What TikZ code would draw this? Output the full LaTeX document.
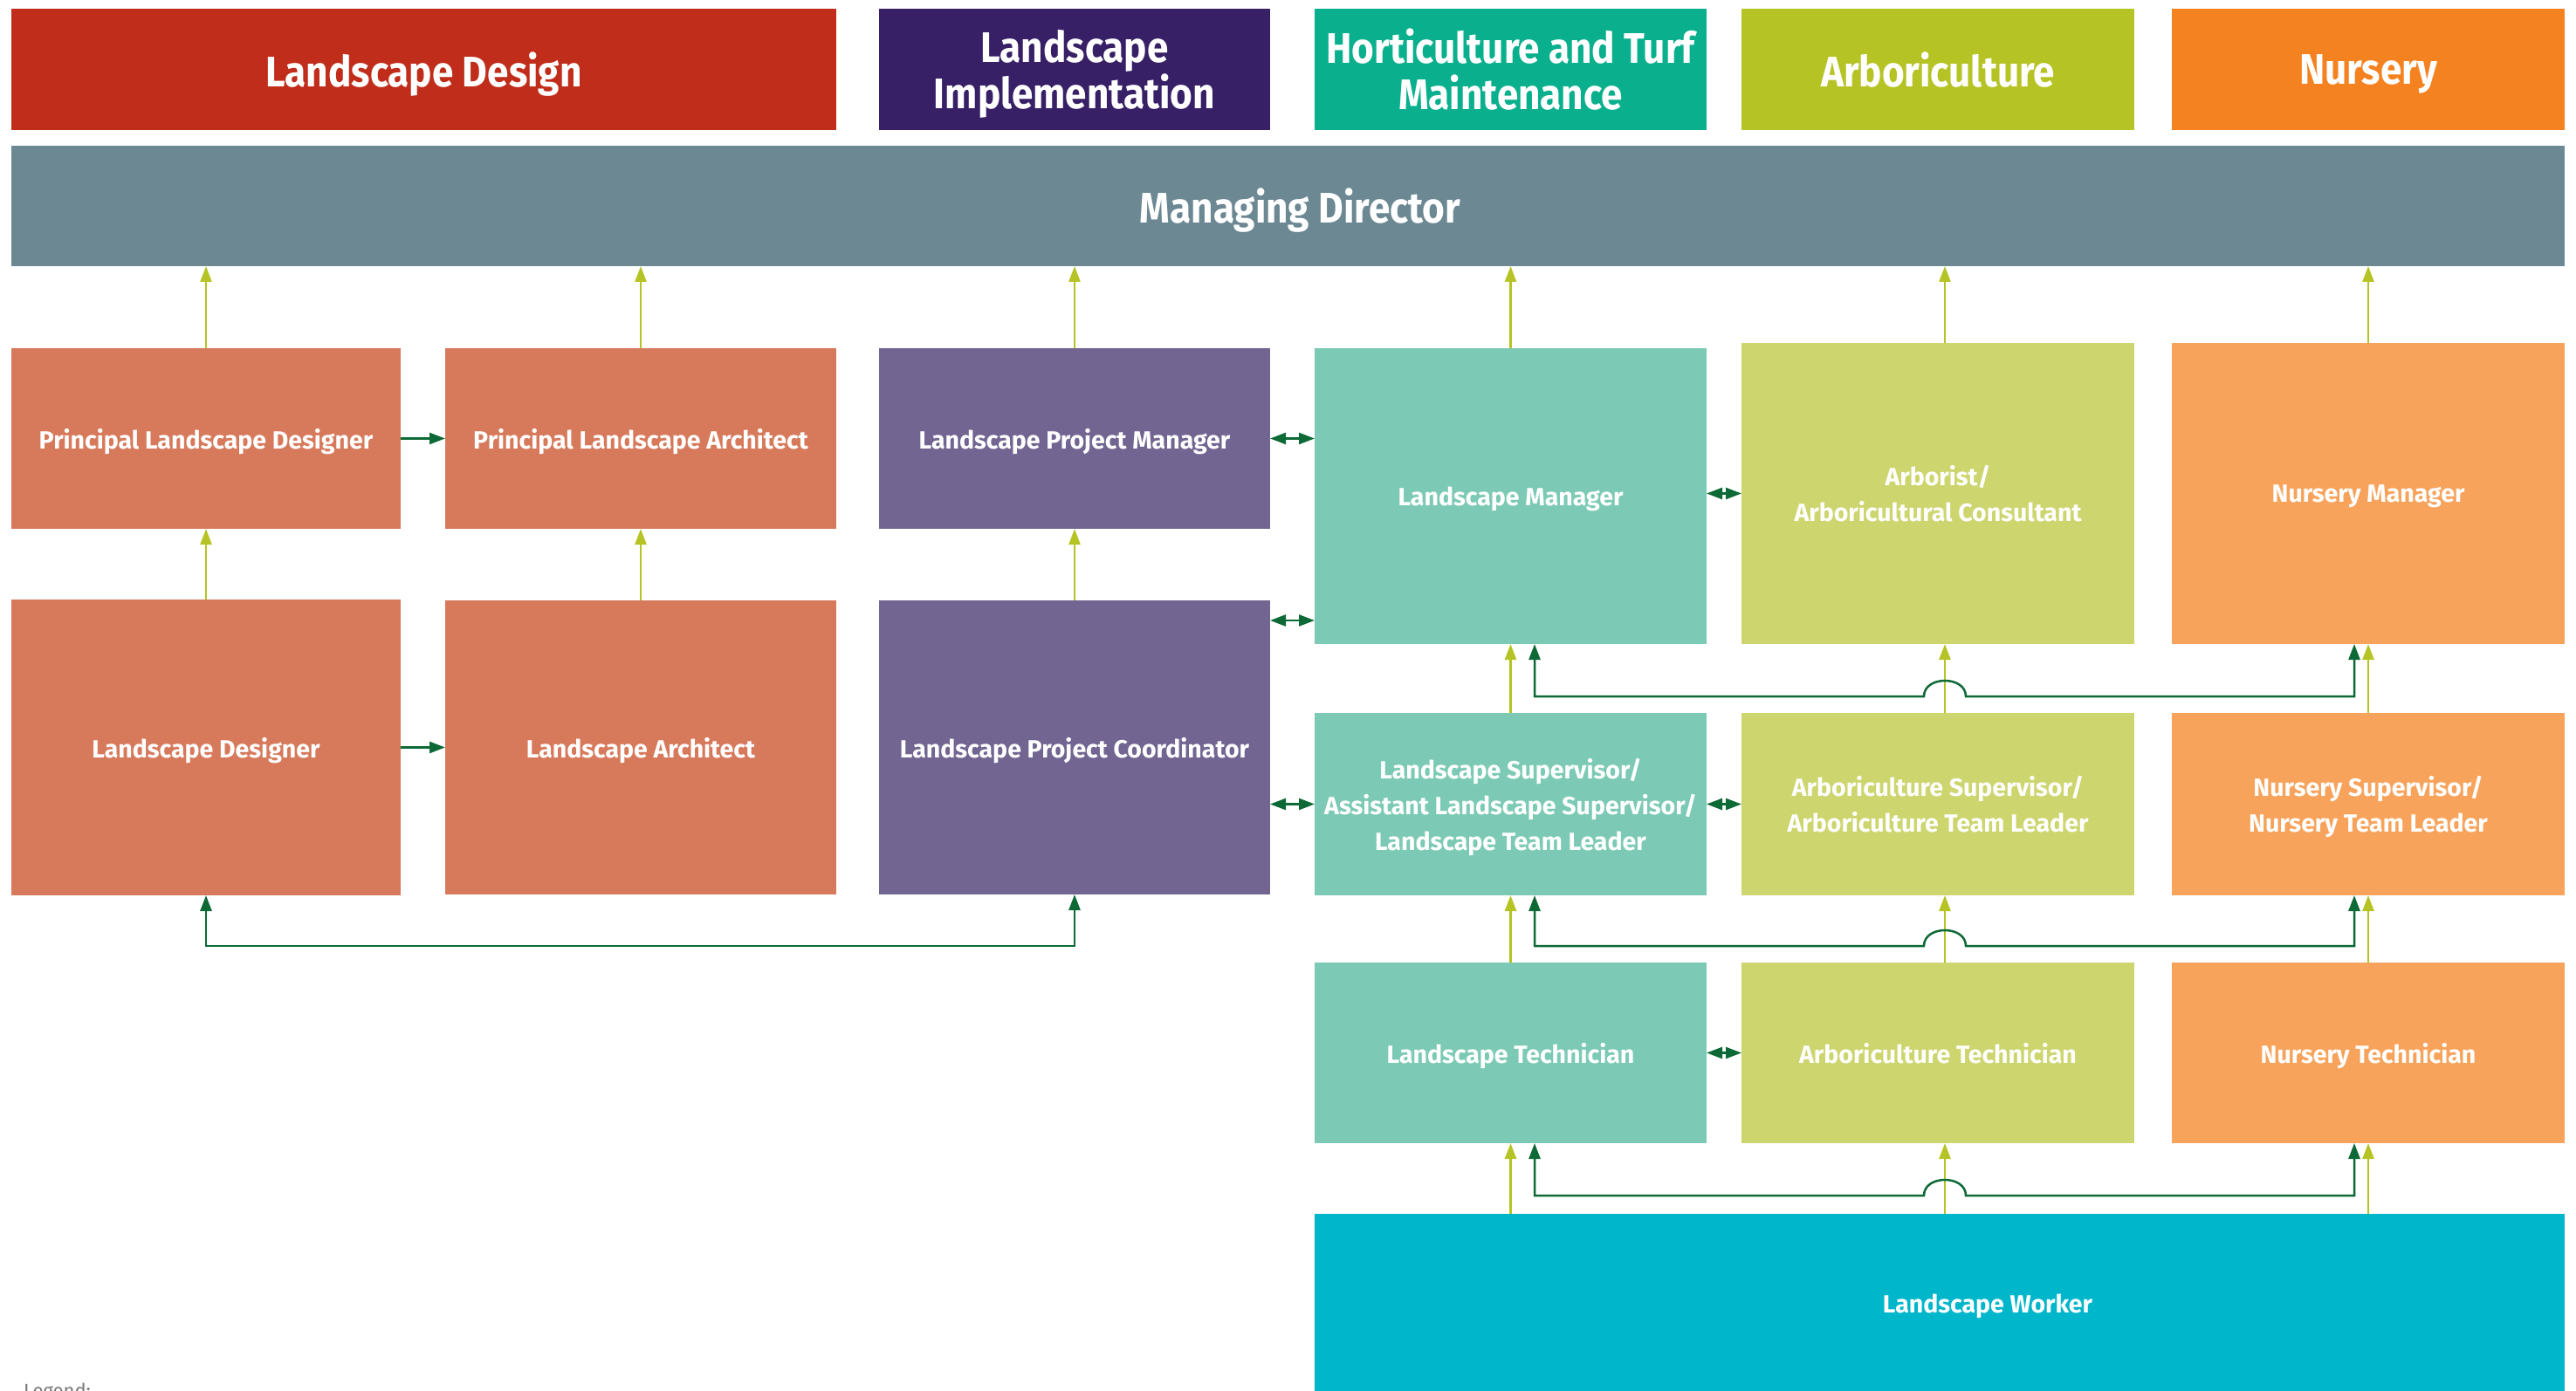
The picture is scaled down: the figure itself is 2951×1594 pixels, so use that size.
\documentclass[tikz,border=0pt]{standalone}
\usepackage{fontspec}
\setmainfont{Fira Sans}
\newfontfamily\din[FakeStretch=0.9]{Fira Sans}
\newfontfamily\dinbox{Fira Sans}
\usetikzlibrary{arrows.meta}
\definecolor{cRed}{HTML}{C02D1A}
\definecolor{cPurp}{HTML}{372066}
\definecolor{cTeal}{HTML}{0AB08D}
\definecolor{cLime}{HTML}{B5C424}
\definecolor{cOrange}{HTML}{F58220}
\definecolor{cMD}{HTML}{6C8893}
\definecolor{cSalmon}{HTML}{D77A5C}
\definecolor{cPurpL}{HTML}{726592}
\definecolor{cTealL}{HTML}{7CCAB5}
\definecolor{cLimeL}{HTML}{CDD56E}
\definecolor{cOrangeL}{HTML}{F7A35B}
\definecolor{cCyan}{HTML}{00B6CB}
\definecolor{cDkGreen}{HTML}{0D6935}
\definecolor{cLegend}{HTML}{777777}
\begin{document}
\begin{tikzpicture}[x=1pt,y=-1pt,
  box/.style={fill=#1, text=white, inner sep=0pt, outer sep=0pt, align=center,
    text depth=0pt, font=\dinbox\bfseries\fontsize{28.5}{41}\selectfont},
  head/.style={fill=#1, text=white, inner sep=0pt, outer sep=0pt, align=center,
    text depth=0pt, minimum height=139pt, font=\din\bfseries\fontsize{49}{53}\selectfont},
  up/.style={draw=cLime, line width=2.5pt, -{Triangle[length=18pt,width=13pt]}},
  link/.style={draw=cDkGreen, line width=2.5pt},
  tip/.tip={Triangle[length=18pt,width=13pt]}
]
\useasboundingbox (0,0) rectangle (2951,1594);

% column helper coordinates
\coordinate (x5) at (2228,0);
\coordinate (g4) at (1758,0);
\coordinate (g6) at (2697,0);
\coordinate (b1) at (2204,0);
\coordinate (b2) at (2252,0);
\coordinate (L1) at (0,798);
\coordinate (L2) at (0,1084);
\coordinate (L3) at (0,1370);
\coordinate (r711) at (0,711);

% headers
\node[head=cRed, minimum width=945pt] (H1) at (485.5,79.5) {Landscape Design};
\node[head=cPurp, minimum width=448pt] (H2) at (1231,79.5) {Landscape\\Implementation};
\node[head=cTeal, minimum width=449pt] (H3) at (1730.5,79.5) {Horticulture and Turf\\Maintenance};
\node[head=cLime, minimum width=450pt] (H4) at (2220,79.5) {Arboriculture};
\node[head=cOrange, minimum width=450pt] (H5) at (2713,79.5) {Nursery};

% managing director
\node[head=cMD, minimum width=2925pt, minimum height=138pt] (MD) at (1475.5,236) {\hspace*{28pt}Managing Director};

% row 1
\node[box=cSalmon, minimum width=446pt, minimum height=207pt] (PLD) at (236,502.5) {Principal Landscape Designer};
\node[box=cSalmon, minimum width=448pt, minimum height=207pt] (PLA) at (734,502.5) {Principal Landscape Architect};
\node[box=cPurpL, minimum width=448pt, minimum height=207pt] (LPM) at (1231,502.5) {Landscape Project Manager};
\node[box=cTealL, minimum width=449pt, minimum height=339pt] (LM) at (1730.5,568.5) {Landscape Manager};
\node[box=cLimeL, minimum width=450pt, minimum height=345pt] (ARB) at (2220,565.5) {Arborist/\\Arboricultural Consultant};
\node[box=cOrangeL, minimum width=450pt, minimum height=345pt] (NM) at (2713,565.5) {Nursery Manager};

% row 2
\node[box=cSalmon, minimum width=446pt, minimum height=339pt] (LD) at (236,856.5) {Landscape Designer};
\node[box=cSalmon, minimum width=448pt, minimum height=337pt] (LA) at (734,856.5) {Landscape Architect};
\node[box=cPurpL, minimum width=448pt, minimum height=337pt] (LPC) at (1231,856.5) {Landscape Project Coordinator};
\node[box=cTealL, minimum width=449pt, minimum height=209pt] (LS) at (1730.5,921.5) {Landscape Supervisor/\\Assistant Landscape Supervisor/\\Landscape Team Leader};
\node[box=cLimeL, minimum width=450pt, minimum height=209pt] (AS) at (2220,921.5) {Arboriculture Supervisor/\\Arboriculture Team Leader};
\node[box=cOrangeL, minimum width=450pt, minimum height=209pt] (NS) at (2713,921.5) {Nursery Supervisor/\\Nursery Team Leader};

% row 3
\node[box=cTealL, minimum width=449pt, minimum height=207pt] (LT) at (1730.5,1206.5) {Landscape Technician};
\node[box=cLimeL, minimum width=450pt, minimum height=207pt] (AT) at (2220,1206.5) {Arboriculture Technician};
\node[box=cOrangeL, minimum width=450pt, minimum height=207pt] (NT) at (2713,1206.5) {Nursery Technician};

% landscape worker
\node[box=cCyan, minimum width=1432pt, minimum height=260pt] (LW) at (2222,1521) {};
\node[box=cCyan, fill=none] (LWt) at (2277,1494) {Landscape Worker};

% legend
\node[anchor=base west, text=cLegend, inner sep=0pt, font=\fontsize{22}{26}\selectfont] (leg) at (27,1601) {Legend:};

% yellow reporting arrows
\draw[up] (PLD.north) -- (PLD.north |- MD.south);
\draw[up] (PLA.north) -- (PLA.north |- MD.south);
\draw[up] (LPM.north) -- (LPM.north |- MD.south);
\draw[up] (LM.north) -- (LM.north |- MD.south);
\draw[up] (x5 |- ARB.north) -- (x5 |- MD.south);
\draw[up] (NM.north) -- (NM.north |- MD.south);
\draw[up] (LD.north) -- (LD.north |- PLD.south);
\draw[up] (LA.north) -- (LA.north |- PLA.south);
\draw[up] (LPC.north) -- (LPC.north |- LPM.south);
\draw[up] (LS.north) -- (LS.north |- LM.south);
\draw[up] (x5 |- AS.north) -- (x5 |- ARB.south);
\draw[up] (NS.north) -- (NS.north |- NM.south);
\draw[up] (LT.north) -- (LT.north |- LS.south);
\draw[up] (x5 |- AT.north) -- (x5 |- AS.south);
\draw[up] (NT.north) -- (NT.north |- NS.south);
\draw[up] (LT.south |- LW.north) -- (LT.south);
\draw[up] (x5 |- LW.north) -- (x5 |- AT.south);
\draw[up] (NT.south |- LW.north) -- (NT.south);

% dark green cross links with bumps
\draw[link, tip-tip] (g4 |- LM.south) -- (g4 |- L1) -- (b1 |- L1)
  .. controls +(0,-24) and +(0,-24) .. (b2 |- L1) -- (g6 |- L1) -- (g6 |- NM.south);
\draw[link, tip-tip] (g4 |- LS.south) -- (g4 |- L2) -- (b1 |- L2)
  .. controls +(0,-24) and +(0,-24) .. (b2 |- L2) -- (g6 |- L2) -- (g6 |- NS.south);
\draw[link, tip-tip] (g4 |- LT.south) -- (g4 |- L3) -- (b1 |- L3)
  .. controls +(0,-24) and +(0,-24) .. (b2 |- L3) -- (g6 |- L3) -- (g6 |- NT.south);
\draw[link, tip-tip] (LD.south) -- (LD.south |- L2) -- (LPC.south |- L2) -- (LPC.south);

% horizontal links
\draw[link, -tip] (PLD.east) -- (PLA.west);
\draw[link, -tip] (LD.east) -- (LA.west);
\draw[link, tip-tip] (LPM.east) -- (LPM.east -| LM.west);
\draw[link, tip-tip] (LPC.east |- r711) -- (LM.west |- r711);
\draw[link, tip-tip] (LPC.east |- LS.west) -- (LS.west);
\draw[link, tip-tip] (LM.east |- ARB.west) -- (ARB.west);
\draw[link, tip-tip] (LS.east) -- (AS.west);
\draw[link, tip-tip] (LT.east) -- (AT.west);
\end{tikzpicture}
\end{document}
